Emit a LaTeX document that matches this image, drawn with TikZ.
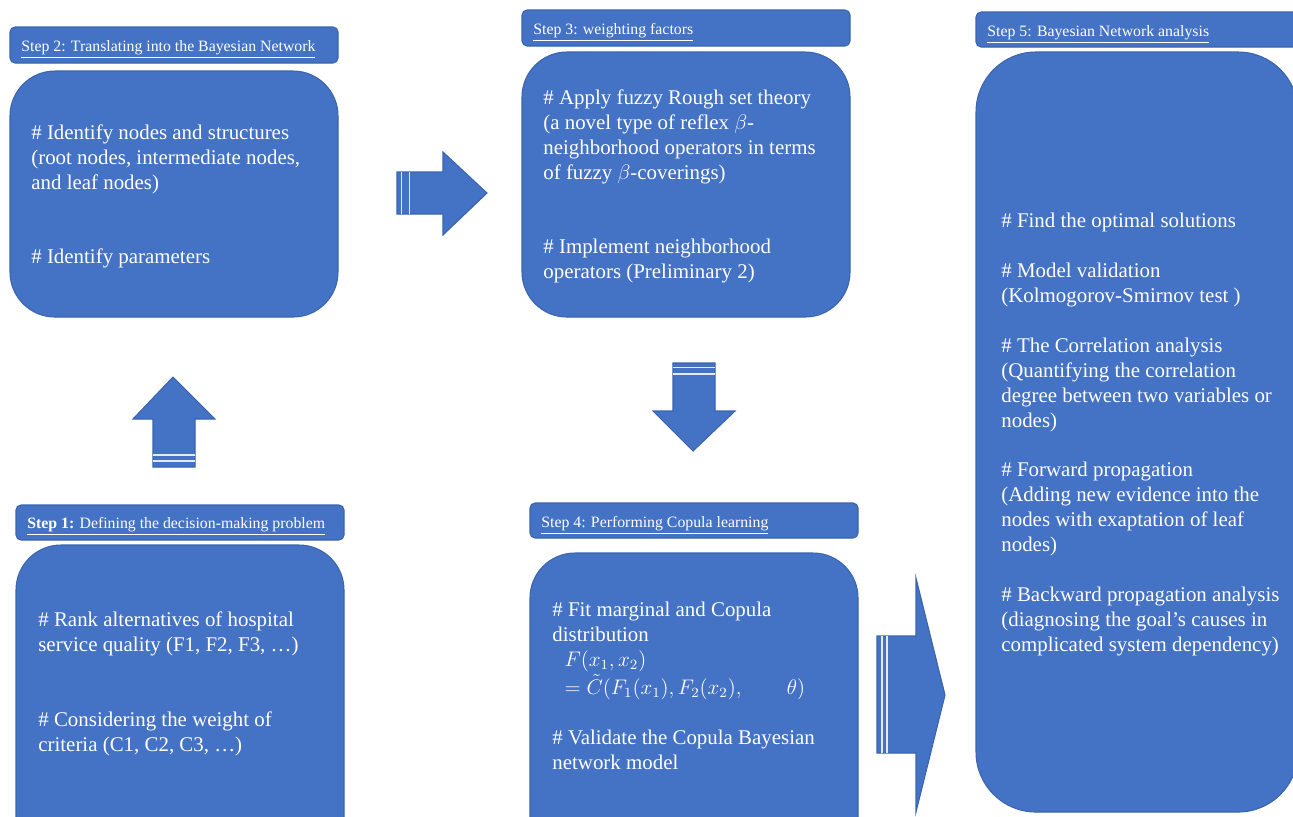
\documentclass[tikz,border=0pt]{standalone}
\usepackage{fontspec}
\setmainfont{Liberation Serif}
\definecolor{boxblue}{HTML}{4472C4}
\definecolor{boxline}{HTML}{3A64AE}
\tikzset{
  body/.style={fill=boxblue, draw=boxline, line width=0.6pt, rounded corners=0.9cm},
  head/.style={fill=boxblue, draw=boxline, line width=0.6pt, rounded corners=0.1cm},
  headtext/.style={anchor=base west, inner sep=0pt, text=white, font=\fontsize{9}{10.5}\selectfont},
  bodytext/.style={anchor=base west, inner sep=0pt, text=white, align=left, font=\fontsize{11.9}{14.17}\selectfont},
  blockarrow/.style={fill=boxblue, draw=boxline, line width=0.6pt},
  stripe/.style={draw=white!85!boxblue, line width=0.8pt}
}
\begin{document}
\begin{tikzpicture}[x=0.02cm, y=-0.02cm]
\clip (0,0) rectangle (1293,816);
\fill[white] (0,0) rectangle (1293,816);

% step 2
\draw[head] (10,27) rectangle (338,63);
\node[headtext] (h2) at (21,51) {\underline{Step 2: Translating\ into the Bayesian\ Network}};
\draw[body] (10,71) rectangle (338,317);
\node[bodytext] (s2a) at (31,189) {\# Identify nodes and structures\\(root nodes, intermediate nodes,\\and leaf nodes)};
\node[bodytext] (s2b) at (31,263) {\# Identify parameters};

% step 3
\draw[head] (522,10) rectangle (850,46);
\node[headtext] (h3) at (533,34) {\underline{Step 3: weighting\ factors}};
\draw[body] (522,52) rectangle (850,317);
\node[bodytext] (s3a) at (543,179) {\# Apply fuzzy Rough set theory\\(a novel type of reflex $\beta$-\\neighborhood operators in terms\\of fuzzy $\beta$-coverings)};
\node[bodytext] (s3b) at (543,278) {\# Implement neighborhood\\operators (Preliminary 2)};

% step 5
\draw[head] (976,12) rectangle (1310,47);
\node[headtext] (h5) at (987,36) {\underline{Step 5: Bayesian\ Network analysis}};
\draw[body, rounded corners=1.2cm] (976,52) rectangle (1298,812);
\node[bodytext] (s5a) at (1001,227) {\# Find the optimal solutions};
\node[bodytext] (s5b) at (1001,302) {\# Model validation\\(Kolmogorov-Smirnov test )};
\node[bodytext] (s5c) at (1001,427) {\# The Correlation analysis\\(Quantifying the correlation\\degree between two variables or\\nodes)};
\node[bodytext] (s5d) at (1001,551) {\# Forward propagation\\(Adding new evidence into the\\nodes with exaptation of leaf\\nodes)};
\node[bodytext] (s5e) at (1001,651) {\# Backward propagation analysis\\(diagnosing the goal's causes in\\complicated system dependency)};

% step 1
\draw[head] (16,505) rectangle (344,540);
\node[headtext] (h1) at (27,528) {\underline{\textbf{Step 1:} Defining\ the decision-making\ problem}};
\draw[body] (16,545) rectangle (344,870);
\node[bodytext] (s1a) at (38,651) {\# Rank alternatives of hospital\\service quality (F1, F2, F3, …)};
\node[bodytext] (s1b) at (38,751) {\# Considering the weight of\\criteria (C1, C2, C3, …)};

% step 4
\draw[head] (530,503) rectangle (858,538);
\node[headtext] (h4) at (541,527) {\underline{Step 4: Performing\ Copula learning}};
\draw[body] (530,553) rectangle (858,870);
\node[bodytext] (s4a) at (552,694) {\# Fit marginal and Copula\\distribution\\\hspace*{7pt}$F(x_{1},x_{2})$\\[1.5pt]\hspace*{7pt}$=\tilde{C}(F_{1}(x_{1}),F_{2}(x_{2}),\qquad\theta)$};
\node[bodytext] (s4b) at (552,769) {\# Validate the Copula Bayesian\\network model};

% arrows
\draw[blockarrow] (397,172) -- (443,172) -- (443,152) -- (487,193) -- (443,235) -- (443,214) -- (397,214) -- cycle;
\draw[stripe] (401.5,172) -- (401.5,214);
\draw[stripe] (409.5,172) -- (409.5,214);

\draw[blockarrow] (153,467) -- (153,419) -- (133,419) -- (173,377) -- (215,419) -- (195,419) -- (195,467) -- cycle;
\draw[stripe] (153,455) -- (195,455);
\draw[stripe] (153,461) -- (195,461);

\draw[blockarrow] (673,363) -- (715,363) -- (715,411) -- (735,411) -- (693,451) -- (653,411) -- (673,411) -- cycle;
\draw[stripe] (673,367.5) -- (715,367.5);
\draw[stripe] (673,374) -- (715,374);

\draw[blockarrow] (877,636) -- (916,636) -- (916,578) -- (945,695) -- (916,812) -- (916,753) -- (877,753) -- cycle;
\draw[stripe] (882,636) -- (882,753);
\draw[stripe] (887,636) -- (887,753);
\end{tikzpicture}
\end{document}
